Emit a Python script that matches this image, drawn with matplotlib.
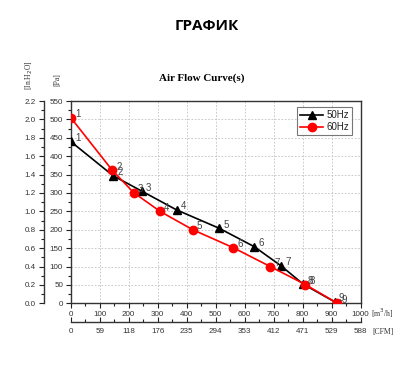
import matplotlib
matplotlib.use('Agg')
import matplotlib.pyplot as plt
from matplotlib.ticker import MultipleLocator

# data
flow_50 = [0, 146, 245, 365, 512, 633, 725, 802, 910]
pa_50 = [440, 347, 305, 254, 204, 154, 102, 52, 4]
flow_60 = [0, 143, 217, 308, 421, 561, 688, 809, 920]
pa_60 = [505, 362, 301, 250, 200, 151, 100, 51, 0]
point_labels = ['1', '2', '3', '4', '5', '6', '7', '8', '9']

x_ticks = [0, 100, 200, 300, 400, 500, 600, 700, 800, 900, 1000]
cfm_labels = ['0', '59', '118', '176', '235', '294', '353', '412', '471', '529', '588']
pa_ticks = [0, 50, 100, 150, 200, 250, 300, 350, 400, 450, 500, 550]
inh2o_ticks = [0.0, 0.2, 0.4, 0.6, 0.8, 1.0, 1.2, 1.4, 1.6, 1.8, 2.0, 2.2]

plt.rcParams['font.family'] = ['Liberation Sans', 'DejaVu Sans']

W, H = 412, 371
fig = plt.figure(figsize=(W / 100, H / 100), dpi=100)
left, right, top, bottom = 70.7, 360.7, 101, 303.3
ax = fig.add_axes([left / W, 1 - bottom / H, (right - left) / W, (bottom - top) / H])

tick_color = '#333333'
ax.plot(flow_50, pa_50, color='black', lw=1.2, marker='^', ms=6, label='50Hz', zorder=3)
ax.plot(flow_60, pa_60, color='#ff0000', lw=1.2, marker='o', ms=6, label='60Hz', zorder=4)

for x, y, t in zip(flow_50, pa_50, point_labels):
    ax.annotate(t, xy=(x, y), xytext=(3, 2.5), textcoords='offset points',
                fontsize=7, color='#444444', ha='left', va='center', zorder=5)
for x, y, t in zip(flow_60, pa_60, point_labels):
    ax.annotate(t, xy=(x, y), xytext=(3, 2.5), textcoords='offset points',
                fontsize=7, color='#444444', ha='left', va='center', zorder=5)

ax.set_xlim(0, 1000)
ax.set_ylim(0, 550)
ax.set_xticks(x_ticks)
ax.set_yticks(pa_ticks)
ax.xaxis.set_minor_locator(MultipleLocator(50))
ax.yaxis.set_minor_locator(MultipleLocator(25))
ax.grid(True, which='major', linestyle=(0, (2, 2)), color='#c0c0c0', lw=0.6)
ax.tick_params(which='both', direction='out', labelsize=5.8, colors='#222222',
               labelcolor=tick_color, width=0.8, pad=2)
ax.tick_params(which='major', length=3.5)
ax.tick_params(which='minor', length=2)
for s in ax.spines.values():
    s.set_linewidth(1.0)
    s.set_color('#333333')

# in. H2O axis on the far left
ax2 = ax.twinx()
ax2.set_ylim(0, 2.2)
ax2.set_yticks(inh2o_ticks)
ax2.set_yticklabels([f'{v:.1f}' for v in inh2o_ticks])
ax2.yaxis.set_minor_locator(MultipleLocator(0.1))
ax2.yaxis.set_ticks_position('left')
ax2.yaxis.set_label_position('left')
ax2.spines['left'].set_position(('outward', 19.5))
for k in ['right', 'top', 'bottom']:
    ax2.spines[k].set_visible(False)
ax2.spines['left'].set_linewidth(1.0)
ax2.spines['left'].set_color('#333333')
ax2.tick_params(which='both', direction='out', labelsize=5.8, colors='#222222',
                labelcolor=tick_color, width=0.8, pad=2)
ax2.tick_params(which='major', length=3.5)
ax2.tick_params(which='minor', length=2)

# CFM axis below
ax3 = ax.twiny()
ax3.set_xlim(0, 1000)
ax3.set_xticks(x_ticks)
ax3.set_xticklabels(cfm_labels)
ax3.xaxis.set_minor_locator(MultipleLocator(50))
ax3.xaxis.set_ticks_position('bottom')
ax3.spines['bottom'].set_position(('outward', 13.5))
for k in ['right', 'top', 'left']:
    ax3.spines[k].set_visible(False)
ax3.spines['bottom'].set_linewidth(1.0)
ax3.spines['bottom'].set_color('#333333')
ax3.tick_params(which='both', direction='in', labelsize=5.8, colors='#222222',
                labelcolor=tick_color, width=0.8, pad=4)
ax3.tick_params(which='major', length=3.5)
ax3.tick_params(which='minor', length=2)

leg = ax.legend(loc='upper right', bbox_to_anchor=(0.97, 0.97), fontsize=7,
                frameon=True, fancybox=False, borderpad=0.3, labelspacing=0.2,
                handlelength=2.4, handletextpad=0.3, borderaxespad=0)
leg.get_frame().set_edgecolor('#555555')
leg.get_frame().set_linewidth(0.8)
for t in leg.get_texts():
    t.set_color('#222222')

fig.text(207 / W, 1 - 26 / H, 'ГРАФИК', ha='center', va='center',
         fontsize=11, fontweight='bold', family='Open Sans')
fig.text(202 / W, 1 - 78 / H, 'Air Flow Curve(s)', ha='center', va='center',
         fontsize=7.9, fontweight='bold', family='Liberation Serif')
fig.text(57 / W, 1 - 80 / H, '[Pa]', ha='center', va='center', rotation=90,
         fontsize=5.5, family='Liberation Serif', color='#333333')
fig.text(29 / W, 1 - 75 / H, '[In.H$_2$O]', ha='center', va='center', rotation=90,
         fontsize=5.5, family='Liberation Serif', color='#333333')
fig.text(371 / W, 1 - 313 / H, '[m$^3$/h]', ha='left', va='center',
         fontsize=5.5, family='Liberation Serif', color='#333333')
fig.text(372 / W, 1 - 332 / H, '[CFM]', ha='left', va='center',
         fontsize=5.5, family='Liberation Serif', color='#333333')

fig.savefig('out.png', dpi=100)
